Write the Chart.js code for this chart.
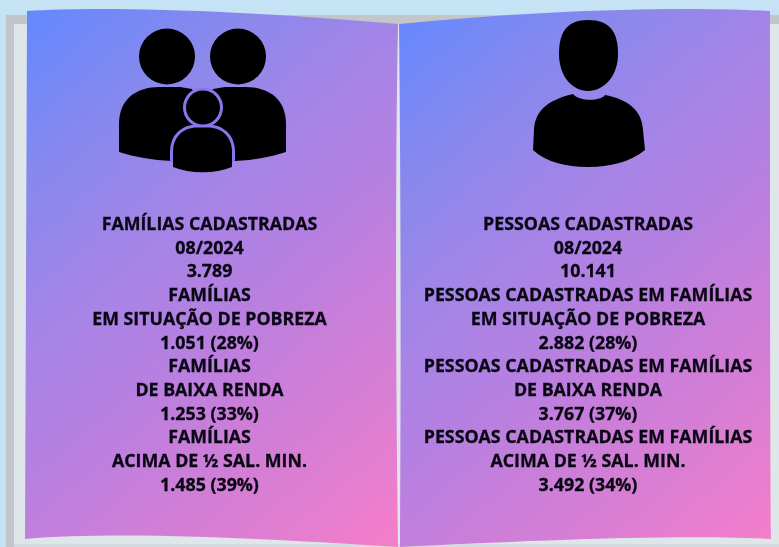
<!DOCTYPE html>
<html>
<head>
<meta charset="utf-8">
<title>Famílias e pessoas cadastradas</title>
<script src="https://cdn.jsdelivr.net/npm/chart.js@4"></script>
<style>
  html, body { margin: 0; padding: 0; background: #c6e2f5; overflow: hidden; }
  canvas { display: block; }
</style>
</head>
<body>
<canvas id="book" width="779" height="547"></canvas>
<script>
const period = '08/2024';
const categories = ['Em situação de pobreza', 'De baixa renda', 'Acima de ½ sal. min.'];
const categoryLines = ['EM SITUAÇÃO DE POBREZA', 'DE BAIXA RENDA', 'ACIMA DE ½ SAL. MIN.'];

const familyTotal = 3789;
const familyValues = [1051, 1253, 1485];
const familyPercents = [28, 33, 39];
const personTotal = 10141;
const personValues = [2882, 3767, 3492];
const personPercents = [28, 37, 34];

const familyTitle = 'FAMÍLIAS CADASTRADAS';
const familyHeading = 'FAMÍLIAS';
const personTitle = 'PESSOAS CADASTRADAS';
const personHeading = 'PESSOAS CADASTRADAS EM FAMÍLIAS';

const fmt = n => n.toLocaleString('pt-BR');

function buildLines(title, total, heading, values, percents) {
  const lines = [title, period, fmt(total)];
  values.forEach((v, i) => {
    lines.push(heading, categoryLines[i], `${fmt(v)} (${percents[i]}%)`);
  });
  return lines;
}

// diagonal page fill, stops
function pageGradient(ctx, x, y, w, h) {
  const len = Math.hypot(0.85, 1);
  const dx = 0.85 / len, dy = 1 / len;
  const half = (w * dx + h * dy) / 2;
  const cx = x + w / 2, cy = y + h / 2;
  const g = ctx.createLinearGradient(cx - dx * half, cy - dy * half, cx + dx * half, cy + dy * half);
  g.addColorStop(0, '#6389ff');
  g.addColorStop(0.23, '#8b88ec');
  g.addColorStop(0.4, '#a684e7');
  g.addColorStop(0.55, '#b580e1');
  g.addColorStop(0.67, '#c87eda');
  g.addColorStop(0.8, '#d87ed4');
  g.addColorStop(1, '#f67dca');
  return g;
}

function drawLeftPage(ctx) {
  ctx.beginPath();
  ctx.moveTo(27, 11);
  ctx.bezierCurveTo(100, 6, 240, 10, 398, 24);
  ctx.bezierCurveTo(395, 180, 396, 380, 398, 547);
  ctx.bezierCurveTo(300, 541, 130, 530, 25, 539);
  ctx.closePath();
  ctx.fillStyle = pageGradient(ctx, 26, 8, 372, 539);
  ctx.fill();
}

function drawRightPage(ctx) {
  ctx.beginPath();
  ctx.moveTo(399, 24);
  ctx.bezierCurveTo(540, 10, 680, 6, 770, 11);
  ctx.bezierCurveTo(770, 200, 770, 400, 771, 539);
  ctx.bezierCurveTo(680, 534, 520, 541, 400, 547);
  ctx.bezierCurveTo(401, 400, 401, 200, 399, 24);
  ctx.closePath();
  ctx.fillStyle = pageGradient(ctx, 399, 8, 372, 539);
  ctx.fill();
}

function drawFamilyIcon(ctx) {
  ctx.fillStyle = '#000';
  [167, 238].forEach(cx => {
    ctx.beginPath();
    ctx.arc(cx, 56.5, 28, 0, Math.PI * 2);
    ctx.fill();
  });

  // left parent
  ctx.beginPath();
  ctx.moveTo(119, 152);
  ctx.lineTo(119, 124);
  ctx.bezierCurveTo(119, 100, 135, 87, 160, 87);
  ctx.lineTo(180, 87);
  ctx.lineTo(192, 89);
  ctx.lineTo(203, 110);
  ctx.lineTo(203, 161);
  ctx.lineTo(172, 161);
  ctx.bezierCurveTo(152, 160, 135, 157, 119, 152);
  ctx.closePath();
  ctx.fill();

  // right parent
  ctx.beginPath();
  ctx.moveTo(286, 152);
  ctx.lineTo(286, 124);
  ctx.bezierCurveTo(286, 100, 270, 87, 245, 87);
  ctx.lineTo(225, 87);
  ctx.lineTo(213, 89);
  ctx.lineTo(203, 110);
  ctx.lineTo(203, 161);
  ctx.lineTo(235, 161);
  ctx.bezierCurveTo(255, 160, 270, 157, 286, 152);
  ctx.closePath();
  ctx.fill();

  // child: page coloured halo first, then the black shape on top
  const childBody = () => {
    ctx.beginPath();
    ctx.moveTo(173, 167);
    ctx.lineTo(173, 152);
    ctx.bezierCurveTo(173, 136, 184, 127.5, 197, 127.5);
    ctx.lineTo(208, 127.5);
    ctx.bezierCurveTo(221, 127.5, 232, 136, 232, 152);
    ctx.lineTo(232, 167);
    ctx.bezierCurveTo(215, 174, 190, 174, 173, 167);
    ctx.closePath();
  };
  ctx.fillStyle = '#8a76ec';
  ctx.beginPath();
  ctx.arc(203, 107.5, 20, 0, Math.PI * 2);
  ctx.fill();

  // the halo stops where the parents end, no outline below them
  ctx.save();
  ctx.beginPath();
  ctx.rect(160, 120, 90, 42);
  ctx.clip();
  ctx.strokeStyle = '#8a76ec';
  ctx.lineWidth = 6;
  childBody();
  ctx.stroke();
  ctx.restore();

  ctx.fillStyle = '#000';
  ctx.beginPath();
  ctx.arc(203, 107.5, 17, 0, Math.PI * 2);
  ctx.fill();
  childBody();
  ctx.fill();
}

function drawPersonIcon(ctx) {
  ctx.fillStyle = '#000';
  ctx.beginPath();
  ctx.moveTo(588, 20);
  ctx.bezierCurveTo(610, 20, 618, 32, 618, 54);
  ctx.bezierCurveTo(618, 76, 604, 91, 588, 91);
  ctx.bezierCurveTo(572, 91, 559, 76, 559, 54);
  ctx.bezierCurveTo(559, 32, 567, 20, 588, 20);
  ctx.closePath();
  ctx.fill();

  ctx.beginPath();
  ctx.moveTo(573, 94);
  ctx.bezierCurveTo(578, 101, 600, 102, 605, 95);
  ctx.bezierCurveTo(625, 99, 642, 108, 643, 130);
  ctx.lineTo(645, 150);
  ctx.bezierCurveTo(630, 162, 610, 167, 588, 167);
  ctx.bezierCurveTo(566, 167, 546, 162, 533, 150);
  ctx.lineTo(534, 130);
  ctx.bezierCurveTo(535, 108, 552, 99, 573, 94);
  ctx.closePath();
  ctx.fill();
}

function drawText(ctx, lines, cx) {
  ctx.fillStyle = '#0a0714';
  ctx.strokeStyle = '#0a0714';
  ctx.lineWidth = 0.3;
  ctx.font = 'bold 17.8px "Open Sans"';
  ctx.textAlign = 'center';
  ctx.textBaseline = 'middle';
  lines.forEach((line, i) => {
    ctx.fillText(line, cx, 225 + i * 23.7);
    ctx.strokeText(line, cx, 225 + i * 23.7);
  });
}

const bookPlugin = {
  id: 'book',
  beforeDraw(chart) {
    const ctx = chart.ctx;
    ctx.save();
    ctx.fillStyle = '#c6e2f5';
    ctx.fillRect(0, 0, 779, 547);
    ctx.fillStyle = '#c2c6c9';
    ctx.fillRect(6, 15, 773, 532);
    ctx.fillStyle = '#dfe6ea';
    ctx.fillRect(14, 24, 765, 523);
    ctx.fillStyle = '#d5dadf';
    ctx.fillRect(14, 544, 765, 3);

    drawLeftPage(ctx);
    drawRightPage(ctx);
    drawFamilyIcon(ctx);
    drawPersonIcon(ctx);

    const sets = chart.data.datasets;
    drawText(ctx, buildLines(familyTitle, familyTotal, familyHeading, sets[0].data, familyPercents), 209.5);
    drawText(ctx, buildLines(personTitle, personTotal, personHeading, sets[1].data, personPercents), 588);
    ctx.restore();
  }
};

new Chart(document.getElementById('book'), {
  type: 'bar',
  data: {
    labels: categories,
    datasets: [
      { label: 'Famílias', data: familyValues, hidden: true },
      { label: 'Pessoas', data: personValues, hidden: true }
    ]
  },
  options: {
    responsive: false,
    animation: false,
    plugins: { legend: { display: false }, title: { display: false }, tooltip: { enabled: false } },
    scales: { x: { display: false }, y: { display: false } }
  },
  plugins: [bookPlugin]
});
</script>
</body>
</html>
